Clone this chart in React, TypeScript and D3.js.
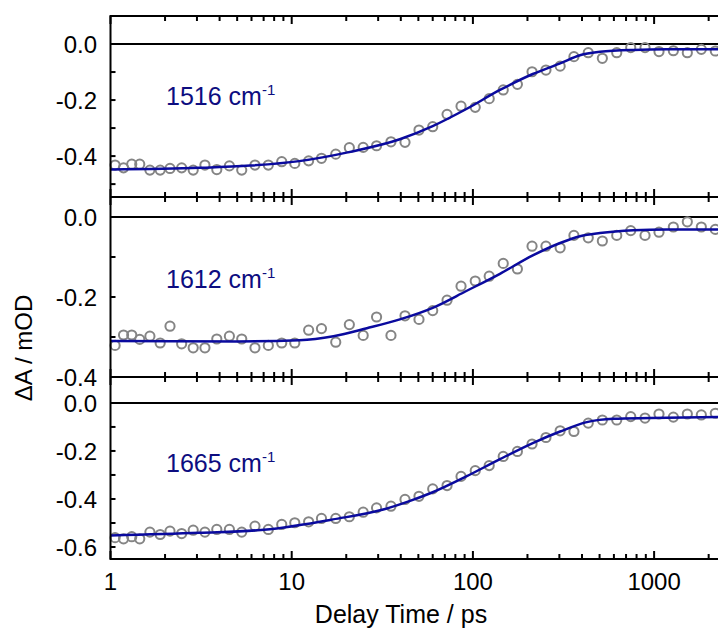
import React from "react";
import * as d3 from "d3";

// Delay times (ps), shared by all three panels
const times = [
  1.06, 1.18, 1.31, 1.45, 1.65, 1.88, 2.13, 2.47, 2.86, 3.32, 3.86, 4.53, 5.3,
  6.27, 7.43, 8.81, 10.4, 12.4, 14.6, 17.5, 20.8, 24.8, 29.4, 35.3, 42.2, 50.4,
  60, 72, 86, 103, 123, 147, 176, 212, 253, 303, 361, 433, 518, 622, 743, 891,
  1064, 1277, 1525, 1822, 2176,
];

const data1516 = [
  -0.432, -0.442, -0.429, -0.429, -0.45, -0.45, -0.444, -0.442, -0.45, -0.432,
  -0.448, -0.435, -0.45, -0.432, -0.432, -0.42, -0.426, -0.417, -0.408, -0.393,
  -0.37, -0.369, -0.363, -0.349, -0.351, -0.307, -0.295, -0.251, -0.222,
  -0.226, -0.195, -0.164, -0.144, -0.099, -0.093, -0.079, -0.045, -0.031,
  -0.051, -0.031, -0.013, -0.013, -0.027, -0.024, -0.031, -0.019, -0.025,
];

const data1612 = [
  -0.321, -0.295, -0.295, -0.306, -0.298, -0.315, -0.273, -0.317, -0.327,
  -0.327, -0.305, -0.298, -0.305, -0.327, -0.321, -0.315, -0.315, -0.283,
  -0.279, -0.313, -0.269, -0.296, -0.25, -0.296, -0.247, -0.256, -0.234,
  -0.208, -0.173, -0.16, -0.148, -0.116, -0.13, -0.073, -0.073, -0.077,
  -0.046, -0.052, -0.06, -0.046, -0.034, -0.046, -0.038, -0.025, -0.012,
  -0.025, -0.031,
];

const data1665 = [
  -0.561, -0.566, -0.557, -0.566, -0.538, -0.548, -0.534, -0.544, -0.53,
  -0.538, -0.527, -0.527, -0.538, -0.513, -0.527, -0.506, -0.499, -0.495,
  -0.481, -0.481, -0.474, -0.455, -0.437, -0.43, -0.402, -0.389, -0.358,
  -0.344, -0.306, -0.282, -0.261, -0.223, -0.202, -0.171, -0.144, -0.116,
  -0.119, -0.084, -0.071, -0.071, -0.057, -0.063, -0.046, -0.059, -0.046,
  -0.05, -0.043,
];

// Fit curves
const fit1516T = [1, 3.1, 5.9, 11, 21, 39.5, 60, 92, 141, 214, 303, 390, 503, 768, 1176, 2260];
const fit1516V = [-0.448, -0.442, -0.434, -0.418, -0.385, -0.34, -0.293, -0.232, -0.164, -0.107, -0.069, -0.04, -0.028, -0.021, -0.019, -0.019];

const fit1612T = [1, 5, 11, 17, 26, 39.5, 60, 92, 141, 214, 303, 390, 503, 768, 1176, 2260];
const fit1612V = [-0.31, -0.311, -0.308, -0.298, -0.278, -0.256, -0.227, -0.185, -0.142, -0.096, -0.065, -0.048, -0.04, -0.033, -0.031, -0.031];

const fit1665T = [1, 3.1, 7.3, 16.9, 32, 45, 60, 92, 141, 214, 303, 425, 595, 949, 2260];
const fit1665V = [-0.552, -0.541, -0.527, -0.485, -0.444, -0.408, -0.372, -0.306, -0.234, -0.167, -0.119, -0.08, -0.066, -0.063, -0.059];

const labels = ["1516", "1612", "1665"];
const xTickValues = [1, 10, 100, 1000];
const yLabelSets = [
  [0, -0.2, -0.4],
  [0, -0.2, -0.4],
  [0, -0.2, -0.4, -0.6],
];
const yMinorSets = [
  [-0.1, -0.2, -0.3, -0.4, -0.5],
  [-0.1, -0.2, -0.3],
  [-0.1, -0.2, -0.3, -0.4, -0.5, -0.6],
];

const W = 718;
const H = 630;
const FONT = "'Liberation Sans', Arial, Helvetica, sans-serif";
const FS = 24;

const panels = [
  { top: 16, bottom: 197, domain: [0.1, -0.546], data: data1516, fitT: fit1516T, fitV: fit1516V, label: labels[0], labelY: 105, yLabels: yLabelSets[0], yMinor: yMinorSets[0] },
  { top: 197, bottom: 377, domain: [0.05, -0.4], data: data1612, fitT: fit1612T, fitV: fit1612V, label: labels[1], labelY: 288, yLabels: yLabelSets[1], yMinor: yMinorSets[1] },
  { top: 377, bottom: 559, domain: [0.108, -0.65], data: data1665, fitT: fit1665T, fitV: fit1665V, label: labels[2], labelY: 472, yLabels: yLabelSets[2], yMinor: yMinorSets[2] },
];

const fmt = (v: number) => (v === 0 ? "0.0" : "-" + Math.abs(v).toFixed(1));

export default function App() {
  const x = d3.scaleLog().domain([1, 2252]).range([110.5, 718]);
  const minorX: number[] = [];
  for (const dec of [1, 10, 100, 1000]) {
    for (let k = 2; k <= 9; k++) {
      const v = dec * k;
      if (v < 2252) minorX.push(v);
    }
  }
  const x0 = x(1);

  return (
    <svg width={W} height={H} style={{ display: "block", position: "absolute", left: 0, top: 0 }} fontFamily={FONT}>
      <rect width={W} height={H} fill="white" />
      {panels.map((p, pi) => {
        const y = d3.scaleLinear().domain(p.domain).range([p.top, p.bottom]);
        const line = d3
          .line<number>()
          .x((_, i) => x(p.fitT[i]))
          .y((d) => y(d))
          .curve(d3.curveMonotoneX);
        return (
          <g key={pi}>
            <line x1={x0} x2={W + 2} y1={p.top} y2={p.top} stroke="black" strokeWidth={2} />
            <line x1={x0} x2={W + 2} y1={p.bottom} y2={p.bottom} stroke="black" strokeWidth={2} />
            <line x1={x0} x2={W + 2} y1={y(0)} y2={y(0)} stroke="black" strokeWidth={2} />
            {xTickValues.map((t) => (
              <g key={"M" + t}>
                <line x1={x(t)} x2={x(t)} y1={p.top} y2={p.top + 8} stroke="black" strokeWidth={2} />
                <line x1={x(t)} x2={x(t)} y1={p.bottom} y2={p.bottom - 8} stroke="black" strokeWidth={2} />
              </g>
            ))}
            {minorX.map((t) => (
              <g key={"m" + t}>
                <line x1={x(t)} x2={x(t)} y1={p.top} y2={p.top + 5} stroke="black" strokeWidth={2} />
                <line x1={x(t)} x2={x(t)} y1={p.bottom} y2={p.bottom - 5} stroke="black" strokeWidth={2} />
              </g>
            ))}
            {p.yMinor.map((v) => (
              <line key={"yt" + v} x1={x0} x2={x0 + 5} y1={y(v)} y2={y(v)} stroke="black" strokeWidth={2} />
            ))}
            {p.yLabels.map((v) => (
              <text key={"yl" + v} x={97} y={y(v)} dy="0.36em" textAnchor="end" fontSize={FS} fill="black">
                {fmt(v)}
              </text>
            ))}
            {p.data.map((v, i) => (
              <circle key={i} cx={x(times[i])} cy={y(v)} r={4.6} fill="none" stroke="#858585" strokeWidth={2} />
            ))}
            <path d={line(p.fitV) || ""} fill="none" stroke="#0a0a9e" strokeWidth={2.5} />
            <text x={166} y={p.labelY} fontSize={FS + 1} fill="#0d0d80">
              {p.label} cm
              <tspan fontSize={15} dy={-10}>-1</tspan>
            </text>
          </g>
        );
      })}
      <line x1={x0} x2={x0} y1={15} y2={560} stroke="black" strokeWidth={2} />
      {xTickValues.map((t) => (
        <text key={"xl" + t} x={x(t)} y={590} textAnchor="middle" fontSize={FS} fill="black">
          {t}
        </text>
      ))}
      <text x={401} y={623} textAnchor="middle" fontSize={FS + 1} fill="black">
        Delay Time / ps
      </text>
      <text transform="translate(32,348) rotate(-90)" textAnchor="middle" fontSize={FS} fill="black">
        ΔA / mOD
      </text>
    </svg>
  );
}
